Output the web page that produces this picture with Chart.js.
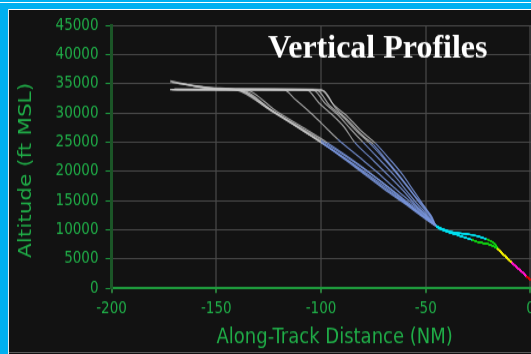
<!DOCTYPE html>
<html>
<head>
<meta charset="utf-8">
<script src="https://cdn.jsdelivr.net/npm/chart.js@4.4.0/dist/chart.umd.min.js"></script>
<style>
  html, body { margin: 0; padding: 0; background: #121212; overflow: hidden; width: 531px; height: 354px; }
  #stretch { position: absolute; left: 0; top: 0; transform: scaleY(1.2); transform-origin: 0 0; }
  .edge { position: absolute; z-index: 2; }
</style>
</head>
<body>
<div id="stretch"><canvas id="profiles" width="600" height="295"></canvas></div>
<div class="edge" style="left:0;top:0;width:531px;height:2px;background:#00b0f0"></div>
<div class="edge" style="left:0;top:2px;width:531px;height:1px;background:#ffffff"></div>
<div class="edge" style="left:0;top:3px;width:531px;height:6px;background:#00b0f0"></div>
<div class="edge" style="left:8px;top:9px;width:523px;height:1px;background:#ffffff"></div>
<div class="edge" style="left:0;top:3px;width:8px;height:351px;background:#00b0f0"></div>
<div class="edge" style="left:8px;top:9px;width:1px;height:345px;background:#e8e8e8"></div>
<div class="edge" style="left:9px;top:352px;width:522px;height:1px;background:#5a5a5a"></div>
<script>
// axis ranges (the original plot runs a little past 0, the picture is cut there)
let X_MIN = -200, X_MAX = 13, X_STEP = 50;
let Y_MIN = 0, Y_MAX = 45000, Y_STEP = 5000;

// tracks: [along-track distance NM, altitude ft]
let trackA1 = [[-172,35500],[-149,34000],[-141,34000],[-125,30700],[-108,27100],[-100,25300],[-85,21800],[-70,17900],[-60,15100],[-50,12300]];
let trackA2 = [[-171,35200],[-152,34300],[-140,33900],[-124,30400],[-108,26800],[-100,25000],[-85,21400],[-70,17500],[-61,15000],[-51,12400]];
let trackA3 = [[-170,34100],[-139,34000],[-123,30300],[-107,26600],[-99,24700],[-84,21000],[-70,17200],[-60,14600],[-50,12000]];
let trackA4 = [[-168,35000],[-148,34100],[-138,33800],[-122,30000],[-106,26400],[-98,24500],[-84,20800],[-70,17000],[-61,14700]];
let trackA5 = [[-172,34000],[-137,34000],[-121,30200],[-105,26700],[-97,24900],[-82,21200],[-69,17600],[-58,14300]];
let trackB1 = [[-171,34000],[-118,34000],[-112,32200],[-105,30000],[-100,28300],[-92,25500],[-82,22500],[-73,19800],[-65,17200],[-58,15000],[-51,12800]];
let trackC1 = [[-172,34000],[-107,34000],[-101,31700],[-95,29800],[-89,27600],[-84,25000],[-76,22200],[-67,19000],[-60,16400],[-55,14300],[-50,12600]];
let trackC2 = [[-170,34000],[-104,34000],[-98,31600],[-92,29700],[-86,27300],[-80,25000],[-72,22000],[-65,19300],[-59,16600],[-54,14400],[-49,12500]];
let trackC3 = [[-169,34000],[-102,33900],[-96,31300],[-90,29500],[-83,26900],[-77,24900],[-70,22200],[-64,19700],[-58,17000],[-53,14600],[-48,12400]];
let trackC4 = [[-172,35300],[-150,34200],[-100,34000],[-94,31400],[-88,29600],[-81,27000],[-74,24800],[-67,22000],[-61,19400],[-56,16800],[-52,14700],[-48,12600]];
let trackC5 = [[-171,34000],[-99,33800],[-93,30800],[-87,28700],[-80,26100],[-75,24600],[-68,21600],[-62,19000],[-56,16200],[-51,14000],[-47,12200]];

// final approach, shared by all tracks
let tailUpper = [[-45,10700],[-40,9900],[-36,9500],[-30,9250],[-25,8900],[-21,8400],[-17,7600],[-15,6500],[-12,5500],[-9,4400],[-5,3100],[-2,2100],[0,1400]];
let tailLower = [[-45,10600],[-40,9700],[-34,9000],[-28,8300],[-24,7800],[-19,7400],[-16,6800],[-13,5800],[-9,4400],[-5,3100],[-2,2100],[0,1400]];

let TRACKS = [
	[trackA1, tailLower], [trackA2, tailLower], [trackA3, tailUpper], [trackA4, tailLower], [trackA5, tailLower],
	[trackB1, tailUpper], [trackC1, tailLower], [trackC2, tailUpper], [trackC3, tailLower], [trackC4, tailUpper], [trackC5, tailLower],
];

let GREEN = '#20ad48';
let TICK_FONT = { family: 'DejaVu Sans', size: 13.5 };
let TITLE_FONT = { family: 'DejaVu Sans', size: 18 };

function altColor(alt) {
	if (alt > 24500) return 'rgba(200,200,200,0.75)';
	if (alt > 10600) return 'rgba(122,150,222,0.85)';
	if (alt > 8200) return '#00e0f0';
	if (alt > 6900) return '#12d012';
	if (alt > 4600) return '#f2ee00';
	if (alt > 1800) return '#ff14c8';
	return '#e00000';
}

let datasets = TRACKS.map(([head, tail]) => {
	return {
		data: head.concat(tail).map(([x, y]) => ({ x: x, y: y })),
		borderWidth: 1.2,
		pointRadius: 0,
		cubicInterpolationMode: 'monotone',
		segment: {
			borderColor: (c) => altColor((c.p0.parsed.y + c.p1.parsed.y) / 2),
		},
	};
});

// title sits inside the plot and is not stretched like the rest
let plotTitle = {
	id: 'plotTitle',
	afterDraw(chart) {
		let ctx = chart.ctx;
		ctx.save();
		ctx.translate(268, 57 / 1.2);
		ctx.scale(1, 1 / 1.2);
		ctx.fillStyle = '#ffffff';
		ctx.font = 'bold 32px "Liberation Serif", "Times New Roman", serif';
		ctx.textBaseline = 'alphabetic';
		ctx.fillText('Vertical Profiles', 0, 0);
		ctx.restore();
	},
};

var ctx = document.getElementById('profiles').getContext('2d');
var profileChart = new Chart(ctx, {
	type: 'line',
	data: { datasets: datasets },
	plugins: [plotTitle],
	options: {
		responsive: false,
		animation: false,
		layout: { padding: { left: 9, top: 21, right: 42.3, bottom: 3 } },
		plugins: { legend: { display: false }, tooltip: { enabled: false } },
		scales: {
			x: {
				type: 'linear',
				min: X_MIN,
				max: X_MAX,
				afterBuildTicks: (scale) => {
					scale.ticks = scale.ticks.filter((t) => t.value % X_STEP === 0);
				},
				ticks: { stepSize: X_STEP, color: GREEN, font: TICK_FONT, padding: 5, maxRotation: 0, format: { useGrouping: false } },
				grid: {
					color: (c) => (c.tick && c.tick.value === X_MIN ? 'rgba(0,0,0,0)' : '#333333'),
					lineWidth: 2,
					tickColor: '#2a7a3a',
					tickLength: 4,
				},
				border: { color: '#1e9a3c', width: 1.5 },
				title: { display: true, text: 'Along-Track Distance (NM)', color: GREEN, font: TITLE_FONT, padding: { top: 0, bottom: 0 } },
			},
			y: {
				min: Y_MIN,
				max: Y_MAX,
				ticks: { stepSize: Y_STEP, color: GREEN, font: TICK_FONT, padding: 7, format: { useGrouping: false } },
				grid: {
					color: (c) => (c.tick && c.tick.value === Y_MIN ? '#1e9a3c' : '#4a4a4a'),
					lineWidth: 1,
					tickColor: '#1e9a40',
					tickLength: 6,
				},
				border: { color: '#1b5527', width: 3 },
				// trailing spaces nudge the centred title down a little, as in the original
				title: { display: true, text: 'Altitude (ft MSL)    ', color: GREEN, font: TITLE_FONT, padding: { top: 7, bottom: 11 } },
			},
		},
	},
});
</script>
</body>
</html>
